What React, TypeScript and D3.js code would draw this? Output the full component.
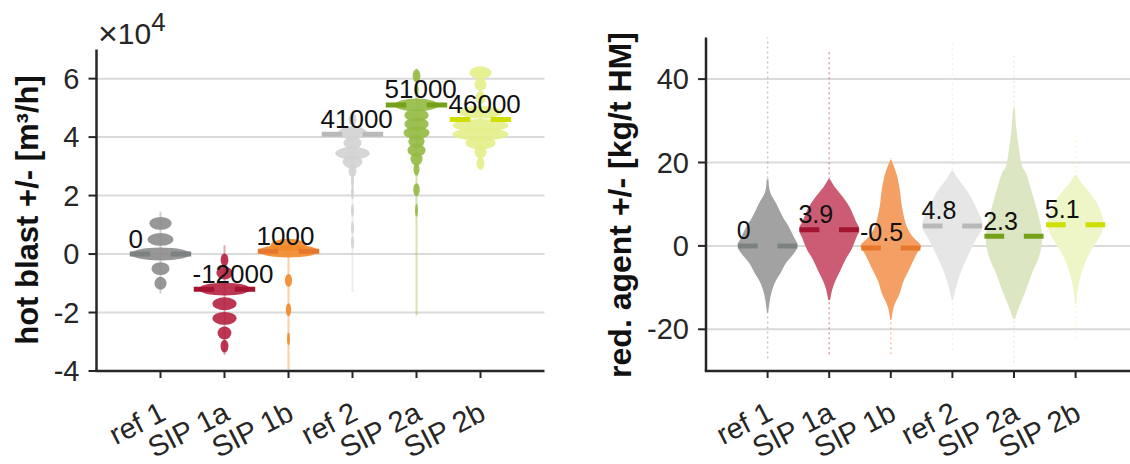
import React from 'react';
import * as d3 from 'd3';

// ---------- data ----------
const categories = ['ref 1', 'SIP 1a', 'SIP 1b', 'ref 2', 'SIP 2a', 'SIP 2b'];

// hot blast (×10^4 m³/h)
const hotBlastMeans = [0, -1.2, 0.1, 4.1, 5.1, 4.6];
const hotBlastMeanLabels = ['0', '-12000', '1000', '41000', '51000', '46000'];
const hotBlastTicks = [-4, -2, 0, 2, 4, 6];
// clusters: [value, relative density]
const hbRef1 = [[1.05, 0.37], [0.5, 0.43], [0, 1.0], [-0.5, 0.3], [-1.0, 0.2]];
const hbSip1a = [[-0.2, 0.13], [-0.65, 0.27], [-1.2, 0.87], [-1.7, 0.4], [-2.2, 0.4], [-2.7, 0.23], [-3.15, 0.13]];
const hbSip1b = [[0.3, 0.6], [0.1, 1.0], [-0.9, 0.12], [-1.9, 0.09], [-2.9, 0.04]];
const hbRef2 = [[4.6, 0.13], [4.15, 0.47], [3.8, 0.3], [3.45, 0.57], [3.15, 0.33], [2.85, 0.13], [2.5, 0.05], [2.1, 0.05], [1.5, 0.04], [0.9, 0.04], [0.4, 0.04]];
const hbSip2a = [[6.1, 0.13], [5.6, 0.07], [5.1, 0.73], [4.75, 0.4], [4.45, 0.4], [4.15, 0.43], [3.85, 0.27], [3.55, 0.3], [3.25, 0.2], [2.9, 0.1], [2.2, 0.11], [1.5, 0.04]];
const hbSip2b = [[6.2, 0.37], [5.8, 0.2], [5.35, 0.17], [4.85, 0.73], [4.4, 0.93], [4.1, 0.93], [3.8, 0.5], [3.5, 0.2], [3.1, 0.13]];
const hotBlastClusters = [hbRef1, hbSip1a, hbSip1b, hbRef2, hbSip2a, hbSip2b];
const hotBlastRanges = [[-1.35, 1.45], [-3.45, 0.3], [-3.95, 0.45], [-1.3, 4.75], [-2.1, 6.35], [2.95, 6.35]];

// reducing agent (kg/t HM)
const redAgentMeans = [0, 3.9, -0.5, 4.8, 2.3, 5.1];
const redAgentMeanLabels = ['0', '3.9', '-0.5', '4.8', '2.3', '5.1'];
const redAgentTicks = [-20, 0, 20, 40];
// violin profiles: [value, relative half-width]
const raRef1 = [[16, 0.03], [13, 0.08], [10, 0.3], [7, 0.5], [5, 0.67], [2, 0.88], [0, 1.0], [-2, 0.85], [-4, 0.62], [-6.5, 0.43], [-9, 0.23], [-12, 0.1], [-16, 0.02]];
const raSip1a = [[16, 0.03], [14, 0.2], [12, 0.42], [9.4, 0.67], [6, 0.88], [4, 1.0], [2, 0.9], [-1, 0.73], [-3, 0.56], [-6.5, 0.33], [-8.5, 0.2], [-10.5, 0.1], [-13, 0.03]];
const raSip1b = [[20.6, 0.02], [17, 0.2], [13.4, 0.3], [9.4, 0.37], [4.6, 0.53], [2, 0.75], [0, 1.0], [-2, 0.85], [-5.8, 0.6], [-8.5, 0.42], [-11.3, 0.3], [-14.6, 0.1], [-17.7, 0.02]];
const raRef2 = [[18, 0.03], [16, 0.2], [13.4, 0.47], [9.4, 0.77], [4.8, 1.0], [1.4, 0.77], [-2.6, 0.5], [-6.5, 0.27], [-10.5, 0.1], [-13, 0.02]];
const raSip2a = [[33, 0.03], [28, 0.08], [23, 0.17], [19, 0.27], [17.5, 0.4], [13.4, 0.57], [9.4, 0.73], [5.5, 0.87], [1.4, 0.93], [-2.6, 0.83], [-6.5, 0.6], [-10.5, 0.4], [-14.6, 0.17], [-17.5, 0.03]];
const raSip2b = [[17, 0.03], [15, 0.2], [13.4, 0.4], [9.4, 0.77], [5.5, 0.93], [3.5, 0.88], [1.4, 0.73], [-2.6, 0.4], [-6.5, 0.2], [-10.5, 0.07], [-14, 0.02]];
const redAgentProfiles = [raRef1, raSip1a, raSip1b, raRef2, raSip2a, raSip2b];
const redAgentRanges = [[-27, 50], [-26, 47], [-26, 21], [-25, 49], [-28, 46], [-22, 27]];

// ---------- styles ----------
const blobColors = ['#8c8c8c', '#b5213f', '#f28a2a', '#d2d2d2', '#93ba42', '#e3ee8a'];
const violinColors = ['#a2a2a2', '#cc5c73', '#f4a064', '#e6e6e6', '#dce6c2', '#eef5c6'];
const barColors = ['#7c8282', '#a2142f', '#e8772e', '#b9b9b9', '#74a01a', '#cfe000'];
const FONT = '"Liberation Sans", Arial, Helvetica, sans-serif';
const AXIS = '#262626';
const GRID = '#dadada';

const W = 1130;
const H = 464;

const xL = d3.scaleLinear().domain([0, 7]).range([96.5, 544.5]);
const yL = d3.scaleLinear().domain([-4, 7]).range([371, 49.4]);
const xR = d3.scaleLinear().domain([0, 7]).range([706, 1137.2]);
const yR = d3.scaleLinear().domain([-30, 50]).range([371, 37.4]);

function MeanBar({ x, y, i, v, label, color, fs }: any) {
  const x0 = x(i + 1 - 0.48);
  const x1 = x(i + 1 + 0.48);
  const seg = (x1 - x0) / 3;
  return (
    <g>
      <line x1={x0} x2={x1} y1={y(v)} y2={y(v)} stroke={color} strokeWidth={5} strokeDasharray={`${seg} ${seg}`} />
      <text x={x(i + 1 - 0.5)} y={y(v) - 6.5} fontSize={fs} fontFamily={FONT} fill="#111">{label}</text>
    </g>
  );
}

function Grid({ x, y, ticks, yMin, labelX, labelY, title, tfs }: any) {
  const x0 = x(0);
  const x1 = x(7);
  return (
    <g>
      {ticks.filter((t: number) => t !== yMin).map((t: number) => (
        <line key={'g' + t} x1={x0} x2={x1} y1={y(t)} y2={y(t)} stroke={GRID} strokeWidth={2} />
      ))}
      <text transform={`translate(${labelX},${labelY}) rotate(-90)`} textAnchor="middle" fontSize={tfs} fontWeight="bold" fontFamily={FONT} fill="#111">{title}</text>
    </g>
  );
}

function AxisLines({ x, y, ticks, yMin, yMax }: any) {
  const x0 = x(0);
  const x1 = x(7);
  return (
    <g>
      <line x1={x0} x2={x0} y1={y(yMax)} y2={y(yMin)} stroke={AXIS} strokeWidth={2.5} />
      <line x1={x0 - 1.25} x2={x1} y1={y(yMin)} y2={y(yMin)} stroke={AXIS} strokeWidth={2.5} />
      {ticks.map((t: number) => (
        <g key={'t' + t}>
          <line x1={x0 - 8} x2={x0} y1={y(t)} y2={y(t)} stroke={AXIS} strokeWidth={2} />
          <text x={x0 - 17} y={y(t) + 10} textAnchor="end" fontSize={29} fontFamily={FONT} fill="#262626">{t}</text>
        </g>
      ))}
      {categories.map((c, i) => (
        <g key={c}>
          <line x1={x(i + 1)} x2={x(i + 1)} y1={y(yMin)} y2={y(yMin) + 7} stroke={AXIS} strokeWidth={2} />
          <text transform={`translate(${x(i + 1) + 7},${y(yMin) + 48}) rotate(-27)`} textAnchor="end" fontSize={29} fontFamily={FONT} fill="#262626">{c}</text>
        </g>
      ))}
    </g>
  );
}

export default function App() {
  const area = (i: number) =>
    d3.area<number[]>()
      .y((d) => yR(d[0]))
      .x0((d) => xR(i + 1 - d[1] * 0.49))
      .x1((d) => xR(i + 1 + d[1] * 0.49))
      .curve(d3.curveCatmullRom);

  return (
    <svg width={W} height={H} style={{ position: 'absolute', left: 0, top: 0, background: '#fff' }}>
      {/* ---------- left panel ---------- */}
      <Grid x={xL} y={yL} ticks={hotBlastTicks} yMin={-4} labelX={38} labelY={210} title="hot blast +/- [m³/h]" tfs={31} />
      {hotBlastClusters.map((cl, i) => (
        <g key={'hb' + i} fill={blobColors[i]}>
          <line x1={xL(i + 1)} x2={xL(i + 1)} y1={yL(hotBlastRanges[i][0])} y2={yL(hotBlastRanges[i][1])} stroke={blobColors[i]} strokeWidth={2} strokeOpacity={0.4} />
          {cl.map((d, k) => (
            <ellipse key={k} cx={xL(i + 1)} cy={yL(d[0])} rx={Math.max(1.5, xL(i + 1 + d[1] * 0.47) - xL(i + 1))} ry={Math.abs(yL(0.22) - yL(0))} opacity={0.9} />
          ))}
        </g>
      ))}
      {hotBlastMeans.map((v, i) => (
        <MeanBar key={'mb' + i} x={xL} y={yL} i={i} v={v} label={hotBlastMeanLabels[i]} color={barColors[i]} fs={26} />
      ))}
      <AxisLines x={xL} y={yL} ticks={hotBlastTicks} yMin={-4} yMax={7} />
      <text x={98} y={44} fontSize={30} fontFamily={FONT} fill="#262626"><tspan fontSize={34} dy={1}>×</tspan><tspan dy={-1}>10</tspan><tspan fontSize={26} dy={-13}>4</tspan></text>

      {/* ---------- right panel ---------- */}
      <Grid x={xR} y={yR} ticks={redAgentTicks} yMin={-30} labelX={631} labelY={205} title="red. agent +/- [kg/t HM]" tfs={32} />
      {redAgentProfiles.map((p, i) => (
        <g key={'ra' + i}>
          <line x1={xR(i + 1)} x2={xR(i + 1)} y1={yR(redAgentRanges[i][0])} y2={yR(redAgentRanges[i][1])} stroke={violinColors[i]} strokeWidth={1.5} strokeOpacity={0.6} strokeDasharray="2 3" />
          <path d={area(i)(p as any) || ''} fill={violinColors[i]} />
        </g>
      ))}
      {redAgentMeans.map((v, i) => (
        <MeanBar key={'mr' + i} x={xR} y={yR} i={i} v={v} label={redAgentMeanLabels[i]} color={barColors[i]} fs={25} />
      ))}
      <AxisLines x={xR} y={yR} ticks={redAgentTicks} yMin={-30} yMax={50} />
    </svg>
  );
}
